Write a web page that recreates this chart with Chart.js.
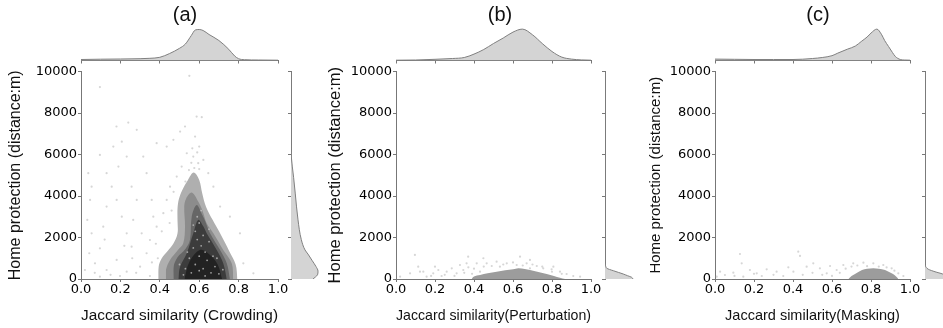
<!DOCTYPE html>
<html><head><meta charset="utf-8">
<script src="https://cdn.jsdelivr.net/npm/chart.js@4.4.1/dist/chart.umd.min.js"></script>
<style>
html,body{margin:0;padding:0;background:#fff;overflow:hidden}
#wrap{position:relative;width:943px;height:328px;overflow:hidden;background:#fff}
#wrap canvas{position:absolute;left:0;top:0}
</style></head><body><div id="wrap"></div>
<script>
// ---------------- DATA ----------------
const panelTitles = ['(a)', '(b)', '(c)'];
const xAxisTitles = ['Jaccard similarity (Crowding)', 'Jaccard similarity(Perturbation)', 'Jaccard similarity(Masking)'];
const yAxisTitle = 'Home protection (distance:m)';
const xTickStep = 0.2;
const yTickStep = 2000;

// top marginal densities (Jaccard similarity -> density, arbitrary units)
const topXA = [0, 0.1, 0.2, 0.3, 0.35, 0.4, 0.45, 0.5, 0.53, 0.56, 0.58, 0.6, 0.62, 0.65, 0.7, 0.75, 0.78, 0.8, 0.83, 0.9, 1.0];
const topDA = [0.10, 0.13, 0.15, 0.18, 0.22, 0.32, 0.70, 1.22, 1.65, 2.50, 3.05, 3.10, 3.00, 2.60, 2.00, 1.12, 0.45, 0.18, 0.08, 0.05, 0.03];
const topXB = [0, 0.1, 0.2, 0.29, 0.35, 0.4, 0.45, 0.5, 0.55, 0.6, 0.648, 0.7, 0.75, 0.8, 0.85, 0.9, 0.95, 1.0];
const topDB = [0.03, 0.05, 0.12, 0.20, 0.30, 0.64, 1.10, 1.70, 2.25, 2.84, 3.14, 2.57, 1.70, 0.90, 0.34, 0.14, 0.06, 0.03];
const topXC = [0, 0.1, 0.2, 0.3, 0.4, 0.5, 0.55, 0.6, 0.63, 0.68, 0.72, 0.75, 0.78, 0.8, 0.83, 0.855, 0.87, 0.89, 0.91, 0.925, 0.95, 0.97, 1.0];
const topDC = [0.14, 0.12, 0.10, 0.10, 0.10, 0.20, 0.30, 0.48, 0.74, 1.14, 1.45, 1.90, 2.35, 2.74, 3.14, 2.57, 2.00, 1.40, 0.80, 0.40, 0.10, 0.05, 0.03];

// right marginal densities (distance -> density, arbitrary units)
const rightYA = [0, 100, 200, 380, 600, 900, 1200, 1400, 1900, 2850, 4100, 4900, 5900, 6500, 10000];
const rightDA = [2.20, 2.45, 2.65, 2.70, 2.50, 2.10, 1.70, 1.40, 1.03, 0.70, 0.43, 0.26, 0.03, 0, 0];
const rightYB = [0, 80, 160, 240, 320, 400, 460, 520, 600, 660, 800, 10000];
const rightDB = [2.80, 2.67, 2.25, 1.83, 1.33, 0.83, 0.45, 0.17, 0.08, 0.03, 0, 0];
const rightYC = [0, 100, 240, 350, 470, 560, 640, 700, 10000];
const rightDC = [2.70, 2.30, 1.77, 1.00, 0.33, 0.12, 0.03, 0, 0];

// KDE contour outlines for panel (a), outer to inner: [similarity, distance]
const contourA1 = [[0.392,0],[0.394,600],[0.41,1000],[0.44,1350],[0.47,1720],[0.49,2200],[0.49,2800],[0.49,3400],[0.497,3850],[0.515,4300],[0.543,4776],[0.572,5130],[0.60,4776],[0.615,4150],[0.635,3470],[0.668,2850],[0.706,2200],[0.752,1350],[0.785,700],[0.794,0]];
const contourA2 = [[0.431,0],[0.431,434],[0.452,917],[0.492,1399],[0.519,1722],[0.528,2523],[0.524,3488],[0.533,3859],[0.562,4163],[0.595,3729],[0.619,3232],[0.638,2687],[0.672,2204],[0.722,1399],[0.765,757],[0.773,0]];
const contourA3 = [[0.469,0],[0.47,600],[0.49,1050],[0.53,1450],[0.553,1881],[0.562,3005],[0.587,3570],[0.615,3100],[0.632,2750],[0.655,2204],[0.706,1399],[0.740,757],[0.756,0]];
const contourA4 = [[0.494,0],[0.503,593],[0.537,1240],[0.57,2204],[0.595,2846],[0.620,2550],[0.638,2204],[0.689,1399],[0.722,757],[0.74,0]];
const contourA5 = [[0.525,0],[0.55,820],[0.604,1400],[0.655,1160],[0.695,675],[0.716,0]];
// dense region of panels (b) and (c)
const contourB1 = [[0.388,0],[0.40,120],[0.431,193],[0.47,280],[0.516,352],[0.56,420],[0.601,468],[0.627,516],[0.66,480],[0.687,434],[0.73,340],[0.773,241],[0.81,150],[0.841,63],[0.867,0]];
const contourC1 = [[0.684,0],[0.70,150],[0.718,241],[0.735,340],[0.754,434],[0.78,490],[0.812,516],[0.84,490],[0.872,434],[0.893,340],[0.913,241],[0.93,110],[0.94,0]];

// individual scatter points outside the dense regions: [similarity, distance]
const pointsA = [[0.55,9790],[0.096,9250],[0.18,7350],[0.24,7540],[0.283,7190],[0.207,6620],[0.096,5980],[0.19,5420],[0.316,5900],[0.333,5100],[0.384,6546],[0.435,6380],[0.469,6705],[0.503,7106],[0.528,7350],[0.587,7830],[0.613,7800],[0.579,6865],[0.6,6380],[0.57,5900],[0.595,5580],[0.537,6060],[0.511,5420],[0.486,4935],[0.452,4450],[0.435,3810],[0.418,3170],[0.384,2520],[0.35,1880],[0.333,1240],[0.3,593],[0.037,5100],[0.054,4450],[0.046,3810],[0.032,2846],[0.054,2200],[0.042,1240],[0.071,757],[0.096,1480],[0.113,2520],[0.13,3490],[0.156,4450],[0.181,3810],[0.207,3005],[0.232,2200],[0.257,1560],[0.265,2846],[0.283,3810],[0.257,4450],[0.232,5900],[0.164,6380],[0.13,5100],[0.359,3810],[0.367,3005],[0.308,2200],[0.181,917],[0.13,434],[0.232,352],[0.02,434],[0.198,145],[0.096,111],[0.35,145],[0.824,757],[0.875,275],[0.807,2200],[0.756,3005],[0.706,3490],[0.672,4450],[0.646,5100],[0.621,5740],[0.56,5600],[0.575,5350],[0.59,6100],[0.548,5250],[0.565,6300],[0.6,5300],[0.53,4700],[0.47,4200],[0.46,3300],[0.45,2700],[0.41,2300],[0.38,1700],[0.39,1000],[0.36,800],[0.28,300],[0.15,200],[0.07,300],[0.26,1000],[0.22,1600],[0.12,1900]];
// light points visible inside the darkest region of (a)
const speckA = [[0.56,300],[0.58,700],[0.6,1100],[0.62,500],[0.64,900],[0.66,300],[0.68,600],[0.7,250],[0.57,1500],[0.59,1900],[0.61,1600],[0.63,1300],[0.65,1800],[0.55,1000],[0.53,500],[0.54,1300],[0.58,2300],[0.6,2700],[0.62,2100],[0.57,2600],[0.6,400],[0.63,150],[0.67,1100],[0.69,1000],[0.52,200],[0.72,450],[0.59,3000],[0.61,3300],[0.65,2400],[0.5,700]];
const pointsB = [[0.097,1158],[0.114,593],[0.072,275],[0.14,352],[0.191,275],[0.217,434],[0.26,352],[0.286,516],[0.328,675],[0.345,434],[0.371,564],[0.414,757],[0.465,757],[0.491,627],[0.533,593],[0.568,757],[0.619,675],[0.67,757],[0.722,627],[0.755,516],[0.798,468],[0.841,352],[0.875,241],[0.909,145],[0.944,111],[0.157,111],[0.021,111],[0.431,352],[0.311,275],[0.234,145],[0.687,516],[0.516,834],[0.37,1075],[0.448,999],[0.636,1075],[0.687,917],[0.807,593],[0.2,593],[0.123,352],[0.362,757],[0.3,150],[0.35,300],[0.4,500],[0.45,600],[0.55,700],[0.6,800],[0.65,650],[0.7,700],[0.75,600],[0.8,350],[0.85,250],[0.25,200],[0.18,150],[0.39,250]];
const pointsC = [[0.128,1206],[0.137,757],[0.427,1317],[0.436,1110],[0.026,352],[0.051,193],[0.094,304],[0.179,434],[0.214,275],[0.265,468],[0.316,352],[0.376,564],[0.402,352],[0.47,593],[0.504,757],[0.538,516],[0.59,627],[0.624,434],[0.658,675],[0.709,757],[0.761,786],[0.812,757],[0.863,675],[0.906,516],[0.94,275],[0.966,145],[0.145,111],[0.35,145],[0.009,111],[0.24,145],[0.573,275],[0.6,150],[0.64,300],[0.67,500],[0.7,600],[0.73,650],[0.78,620],[0.84,600],[0.88,560],[0.92,400],[0.55,200],[0.5,300],[0.45,200],[0.3,200],[0.2,250],[0.1,150]];

// ---------------- LAYOUT / STYLE ----------------
const W = 960, H = 328;
const T = 71.5, B = 279, TOPT = 25, TOPB = 60.5, RW = 30;
const AXIS = '#777';
const TXT = '#000';
const geom = [
  {L: 81,  R: 278, yTitleX: 15.8, yTitleSize: 16,   xTitleSize: 15.5, titleX: 185, rL: 291},
  {L: 396, R: 591, yTitleX: 335,  yTitleSize: 16.5, xTitleSize: 14.8, titleX: 500, rL: 605},
  {L: 715, R: 910, yTitleX: 656,  yTitleSize: 15,   xTitleSize: 14.5, titleX: 818, rL: 925}
];
const panels = [
  {topX: topXA, topD: topDA, rY: rightYA, rD: rightDA,
   contours: [[contourA5,'#222222'],[contourA4,'#3c3c3c'],[contourA3,'#666666'],[contourA2,'#8c8c8c'],[contourA1,'#afafaf']], pts: pointsA, speck: speckA},
  {topX: topXB, topD: topDB, rY: rightYB, rD: rightDB, contours: [[contourB1,'#9c9c9c']], pts: pointsB, speck: []},
  {topX: topXC, topD: topDC, rY: rightYC, rD: rightDC, contours: [[contourC1,'#9c9c9c']], pts: pointsC, speck: []}
];
const toXY = arr => arr.map(p => ({x: p[0], y: p[1]}));
function newCtx() {
  const c = document.createElement('canvas');
  c.width = W; c.height = H; c.style.width = W + 'px'; c.style.height = H + 'px';
  document.getElementById('wrap').appendChild(c);
  return c.getContext('2d');
}
const base = {responsive: false, animation: false, devicePixelRatio: 1, events: []};
const tickFont = {family: 'DejaVu Sans', size: 13};

panels.forEach((p, i) => {
  const g = geom[i];
  // ----- main joint plot -----
  const padL = g.yTitleX - 0.6 * g.yTitleSize;
  const ds = [];
  if (p.speck.length) ds.push({data: toXY(p.speck), showLine: false, pointRadius: 0.9, borderWidth: 0,
    backgroundColor: 'rgba(200,200,200,0.75)'});
  p.contours.forEach(([c, col]) => ds.push({
    data: toXY(c), showLine: true, fill: 'origin', backgroundColor: col,
    borderColor: 'rgba(0,0,0,0)', borderWidth: 0, pointRadius: 0, tension: 0.35
  }));
  ds.push({data: toXY(p.pts), showLine: false, pointRadius: 1.1, borderWidth: 0,
    backgroundColor: 'rgba(165,165,165,0.45)'});
  new Chart(newCtx(), {
    type: 'scatter',
    data: {datasets: ds},
    options: Object.assign({}, base, {
      layout: {padding: {left: padL, right: W - g.R, top: T, bottom: 0}},
      plugins: {legend: {display: false}, tooltip: {enabled: false}},
      scales: {
        x: {type: 'linear', min: 0, max: 1,
          ticks: {stepSize: xTickStep, callback: v => Number(v).toFixed(1), font: tickFont, color: TXT, padding: 0, maxRotation: 0, autoSkip: false},
          grid: {display: true, drawOnChartArea: false, drawTicks: true, tickLength: 3, color: AXIS},
          border: {display: true, color: AXIS, width: 1},
          title: {display: true, text: xAxisTitles[i], color: '#111', font: {family: 'Liberation Sans', size: g.xTitleSize}, padding: {top: 0, bottom: 3.2}},
          afterFit: s => { s.height = H - B; }
        },
        y: {type: 'linear', min: 0, max: 10000,
          ticks: {stepSize: yTickStep, callback: v => String(v), font: tickFont, color: TXT, padding: 1, autoSkip: false},
          grid: {display: true, drawOnChartArea: false, drawTicks: true, tickLength: 3, color: AXIS},
          border: {display: true, color: AXIS, width: 1},
          title: {display: true, text: yAxisTitle, color: '#111', font: {family: 'Liberation Sans', size: g.yTitleSize}, padding: {top: 0, bottom: 0}},
          afterFit: s => { s.width = g.L - padL; }
        }
      }
    })
  });

  // ----- top marginal density -----
  new Chart(newCtx(), {
    type: 'line',
    data: {datasets: [{data: p.topX.map((x, j) => ({x, y: p.topD[j]})), fill: 'origin',
      backgroundColor: '#d4d4d4', borderColor: '#808080', borderWidth: 1, pointRadius: 0,
      cubicInterpolationMode: 'monotone'}]},
    options: Object.assign({}, base, {
      layout: {padding: {left: g.L, right: W - g.R, top: TOPT, bottom: H - TOPB}},
      plugins: {legend: {display: false}, tooltip: {enabled: false}},
      scales: {
        x: {type: 'linear', min: 0, max: 1, ticks: {display: false, stepSize: xTickStep},
          grid: {display: true, drawOnChartArea: false, drawTicks: true, tickLength: 3, color: AXIS},
          border: {display: true, color: AXIS, width: 1},
          afterFit: s => { s.height = 0; }},
        y: {type: 'linear', display: false, min: 0, max: 3.55}
      }
    })
  });

  // ----- right marginal density (+ panel title) -----
  const padLr = 2 * g.titleX - g.rL - RW;
  new Chart(newCtx(), {
    type: 'line',
    data: {datasets: [{data: p.rY.map((y, j) => ({x: p.rD[j], y})), fill: 'origin',
      backgroundColor: '#d4d4d4', borderColor: '#808080', borderWidth: 1, pointRadius: 0,
      cubicInterpolationMode: 'monotone'}]},
    options: Object.assign({}, base, {
      indexAxis: 'y',
      layout: {padding: {left: padLr, right: W - (g.rL + RW), top: 0, bottom: H - B}},
      plugins: {legend: {display: false}, tooltip: {enabled: false},
        title: {display: true, text: panelTitles[i], color: '#111', font: {family: 'Liberation Sans', size: 20, weight: 'normal'},
          padding: {top: 3, bottom: T - 3 - 24}}},
      scales: {
        x: {type: 'linear', display: false, min: 0, max: 3},
        y: {type: 'linear', min: 0, max: 10000, ticks: {display: false, stepSize: yTickStep},
          grid: {display: true, drawOnChartArea: false, drawTicks: true, tickLength: 3, color: AXIS},
          border: {display: true, color: AXIS, width: 1},
          afterFit: s => { s.width = g.rL - padLr; }}
      }
    })
  });
});
</script></body></html>
